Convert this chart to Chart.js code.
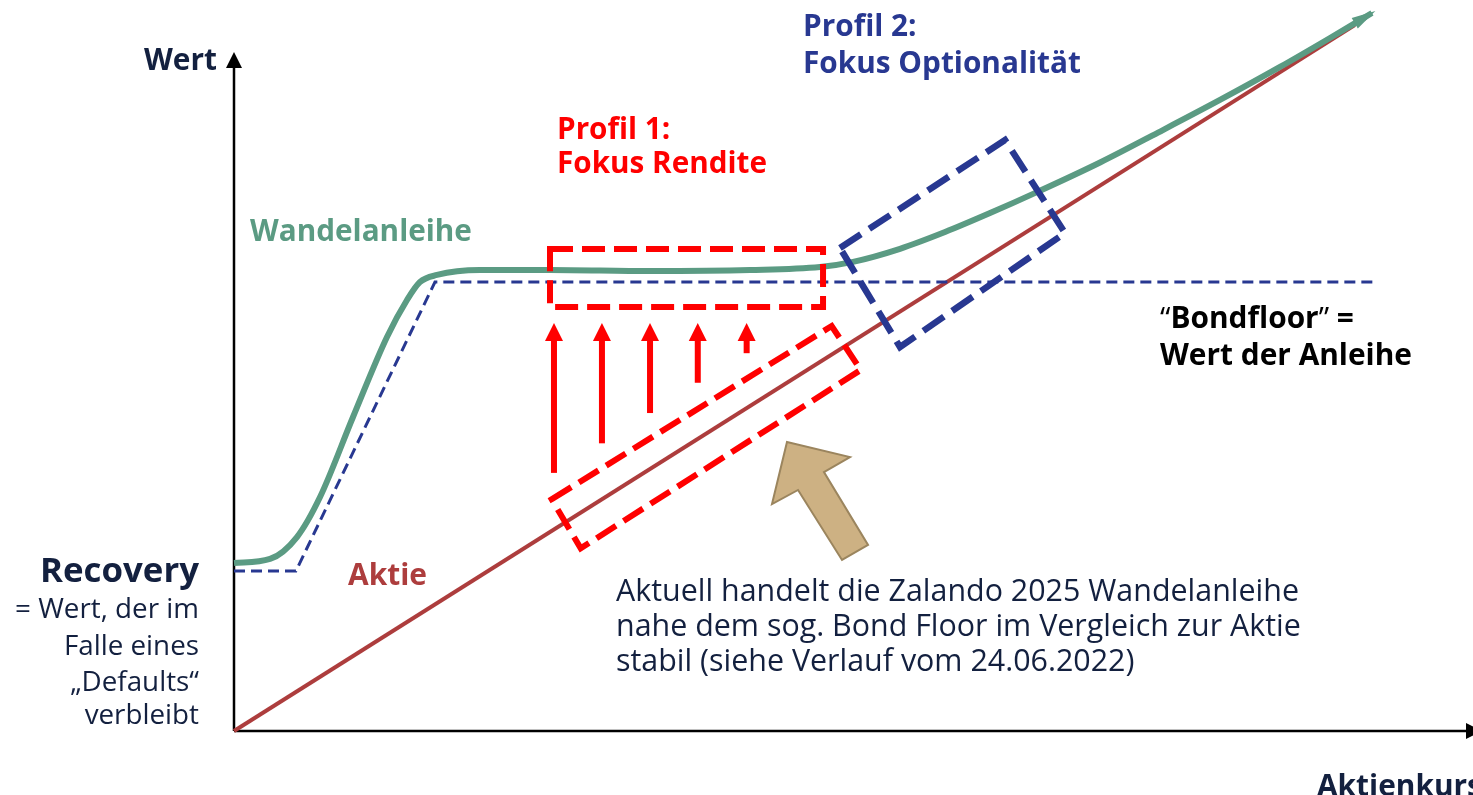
<!DOCTYPE html>
<html><head><meta charset="utf-8">
<script src="https://cdn.jsdelivr.net/npm/chart.js@4"></script>
<style>html,body{margin:0;padding:0;background:#fff;overflow:hidden}canvas{display:block}</style>
</head><body>
<canvas id="c" width="1473" height="795"></canvas>
<script>
// ---- Data (chart units: x = Aktienkurs, y = Wert) ----
const aktieX = [0, 98.6];
const aktieY = [0, 97.9];
const wandelX = [0, 3.17, 5.54, 7.57, 10.47, 13.46, 15.22, 16.36, 17.86, 21.64, 27.8, 36.6, 45.4, 51.55, 54.46, 58.59, 62.55, 66.51, 70.64, 76.19, 81.29, 86.74, 92.02, 96.42, 100.11];
const wandelY = [23.3, 23.86, 26.9, 32.45, 43.55, 54.65, 59.78, 62.27, 63.25, 63.94, 63.94, 63.8, 63.94, 64.36, 65.07, 66.88, 69.2, 71.83, 74.74, 78.85, 83.0, 87.52, 92.1, 96.12, 99.58];
const bondX = [0, 5.45, 17.68, 100.6];
const bondY = [22.19, 22.19, 62.27, 62.27];
const upArrowX = [28.15, 32.37, 36.6, 40.8, 45.1];
const upArrowFromY = [35.8, 39.9, 44.1, 48.3, 52.4];
const upArrowToY = [56.6, 56.6, 56.6, 56.6, 56.6];
const profil1BoxX = [27.8, 51.82, 51.82, 27.8];
const profil1BoxY = [66.85, 66.85, 58.8, 58.8];
const aktieBoxX = [27.95, 52.58, 55.13, 30.5];
const aktieBoxY = [32.14, 56.17, 50.07, 25.34];
const profil2BoxX = [53.31, 67.83, 73.1, 58.59];
const profil2BoxY = [66.99, 81.97, 69.07, 53.26];
const pointerX = [48.65, 54.19, 51.9, 55.78, 53.49, 49.62, 47.33];
const pointerY = [40.08, 38.0, 35.92, 25.8, 23.72, 33.43, 31.48];

const seriesNames = ['Wandelanleihe', 'Bondfloor', 'Aktie'];
const axisTitles = ['Wert', 'Aktienkurs'];
const recoveryLines = ['= Wert, der im', 'Falle eines', '\u201EDefaults\u201C', 'verbleibt'];
const noteLines = ['Aktuell handelt die Zalando 2025 Wandelanleihe', 'nahe dem sog. Bond Floor im Vergleich zur Aktie', 'stabil (siehe Verlauf vom 24.06.2022)'];
const profil1Lines = ['Profil 1:', 'Fokus Rendite'];
const profil2Lines = ['Profil 2:', 'Fokus Optionalit\u00E4t'];
const bondLines = ['Bondfloor', 'Wert der Anleihe'];

const C_GREEN = '#5b9b83', C_RED = '#ad3d3d', C_NAVY = '#13203f', C_BLUE = '#283891', C_BRIGHT = '#ff0000';
const FONT = '"Open Sans", "Noto Sans", sans-serif';

const pts = (xs, ys) => xs.map((x, i) => ({x, y: ys[i]}));

function sizeFor(ctx, text, weight, target) {
  ctx.font = weight + ' 100px ' + FONT;
  return 100 * target / ctx.measureText(text).width;
}

const deco = {
  id: 'deco',
  beforeDatasetsDraw(chart) {
    const ctx = chart.ctx, sx = chart.scales.x, sy = chart.scales.y;
    const ox = sx.getPixelForValue(0), oy = sy.getPixelForValue(0);
    ctx.save();
    ctx.strokeStyle = '#000'; ctx.fillStyle = '#000'; ctx.lineWidth = 2.5;
    ctx.beginPath(); ctx.moveTo(ox, oy); ctx.lineTo(ox, 64); ctx.stroke();
    ctx.beginPath(); ctx.moveTo(ox, 52); ctx.lineTo(ox - 8, 68); ctx.lineTo(ox + 8, 68); ctx.closePath(); ctx.fill();
    ctx.beginPath(); ctx.moveTo(ox, oy); ctx.lineTo(1470, oy); ctx.stroke();
    ctx.beginPath(); ctx.moveTo(1482, oy); ctx.lineTo(1466, oy - 8); ctx.lineTo(1466, oy + 8); ctx.closePath(); ctx.fill();
    ctx.restore();
  },
  afterDatasetsDraw(chart) {
    const ctx = chart.ctx, sx = chart.scales.x, sy = chart.scales.y;
    const P = (x, y) => [sx.getPixelForValue(x), sy.getPixelForValue(y)];
    ctx.save();
    // green arrowhead
    const n = wandelX.length;
    const [ex, ey] = P(wandelX[n - 1], wandelY[n - 1]);
    const [px, py] = P(wandelX[n - 2], wandelY[n - 2]);
    const ang = Math.atan2(ey - py, ex - px);
    ctx.fillStyle = C_GREEN;
    ctx.beginPath();
    ctx.moveTo(ex + 4 * Math.cos(ang), ey + 4 * Math.sin(ang));
    ctx.lineTo(ex - 20 * Math.cos(ang) + 6 * Math.sin(ang), ey - 20 * Math.sin(ang) - 6 * Math.cos(ang));
    ctx.lineTo(ex - 20 * Math.cos(ang) - 6 * Math.sin(ang), ey - 20 * Math.sin(ang) + 6 * Math.cos(ang));
    ctx.closePath(); ctx.fill();

    const poly = (xs, ys, color, dash, w) => {
      ctx.strokeStyle = color; ctx.lineWidth = w; ctx.setLineDash(dash); ctx.lineJoin = 'miter'; ctx.lineCap = 'butt';
      ctx.beginPath();
      xs.forEach((x, i) => { const [a, b] = P(x, ys[i]); i ? ctx.lineTo(a, b) : ctx.moveTo(a, b); });
      ctx.closePath(); ctx.stroke();
    };
    poly(profil1BoxX, profil1BoxY, C_BRIGHT, [23, 9], 6);
    poly(aktieBoxX, aktieBoxY, C_BRIGHT, [23, 9], 6);
    poly(profil2BoxX, profil2BoxY, C_BLUE, [25, 10], 6.5);
    ctx.setLineDash([]);

    // up arrows
    ctx.fillStyle = C_BRIGHT; ctx.strokeStyle = C_BRIGHT;
    upArrowX.forEach((x, i) => {
      const [a, b0] = P(x, upArrowFromY[i]);
      const [, b1] = P(x, upArrowToY[i]);
      ctx.fillRect(a - 3, b1 + 16, 6, b0 - b1 - 16);
      ctx.beginPath(); ctx.moveTo(a, b1); ctx.lineTo(a - 9, b1 + 18); ctx.lineTo(a + 9, b1 + 18); ctx.closePath(); ctx.fill();
    });

    // tan pointer arrow
    ctx.fillStyle = '#cdb183'; ctx.strokeStyle = '#9b855e'; ctx.lineWidth = 2;
    ctx.beginPath();
    pointerX.forEach((x, i) => { const [a, b] = P(x, pointerY[i]); i ? ctx.lineTo(a, b) : ctx.moveTo(a, b); });
    ctx.closePath(); ctx.fill(); ctx.stroke();

    // texts
    ctx.textBaseline = 'alphabetic';
    const txt = (t, x, y, size, weight, color, align) => {
      ctx.font = weight + ' ' + size.toFixed(2) + 'px ' + FONT;
      ctx.fillStyle = color; ctx.textAlign = align || 'left';
      ctx.fillText(t, x, y);
    };
    const sWert = sizeFor(ctx, axisTitles[0], 'bold', 73);
    txt(axisTitles[0], 217, 70, sWert, 'bold', C_NAVY, 'right');
    txt(axisTitles[1], 1317, 796, sWert, 'bold', C_NAVY);
    const sW = sizeFor(ctx, seriesNames[0], 'bold', 222);
    txt(seriesNames[0], 250, 241, sW, 'bold', C_GREEN);
    const sA = sizeFor(ctx, seriesNames[2], 'bold', 79);
    txt(seriesNames[2], 348, 585, sA, 'bold', C_RED);
    const sP1 = sizeFor(ctx, profil1Lines[1], 'bold', 210);
    txt(profil1Lines[0], 557, 139, sP1, 'bold', C_BRIGHT);
    txt(profil1Lines[1], 557, 173, sP1, 'bold', C_BRIGHT);
    const sP2 = sizeFor(ctx, profil2Lines[1], 'bold', 278);
    txt(profil2Lines[0], 803, 36, sP2, 'bold', C_BLUE);
    txt(profil2Lines[1], 803, 73, sP2, 'bold', C_BLUE);
    const sB = sizeFor(ctx, bondLines[1], 'bold', 252);
    let bx = 1160;
    const seg = (t, w) => { ctx.font = w + ' ' + sB.toFixed(2) + 'px ' + FONT; ctx.fillStyle = '#000'; ctx.textAlign = 'left'; ctx.fillText(t, bx, 328); bx += ctx.measureText(t).width; };
    seg('\u201C', 'normal'); seg(bondLines[0], 'bold'); seg('\u201D', 'normal'); seg(' =', 'bold');
    txt(bondLines[1], 1160, 365, sB, 'bold', '#000');
    const sR = sizeFor(ctx, 'Recovery', 'bold', 159);
    txt('Recovery', 199, 582, sR, 'bold', C_NAVY, 'right');
    const sRl = sizeFor(ctx, recoveryLines[0], 'normal', 184);
    const rb = [618, 655, 691, 724];
    recoveryLines.forEach((t, i) => txt(t, 199, rb[i], sRl, 'normal', C_NAVY, 'right'));
    const sN = sizeFor(ctx, noteLines[0], 'normal', 683);
    noteLines.forEach((t, i) => txt(t, 616, 601 + 35 * i, sN, 'normal', C_NAVY));
    ctx.restore();
  }
};

new Chart(document.getElementById('c'), {
  type: 'scatter',
  data: {
    datasets: [
      { label: seriesNames[0], data: pts(wandelX, wandelY), showLine: true, borderColor: C_GREEN, borderWidth: 6, pointRadius: 0, cubicInterpolationMode: 'monotone', order: 1, clip: false },
      { label: seriesNames[1], data: pts(bondX, bondY), showLine: true, borderColor: C_BLUE, borderWidth: 3, borderDash: [11, 6], pointRadius: 0, tension: 0, order: 2, clip: false },
      { label: seriesNames[2], data: pts(aktieX, aktieY), showLine: true, borderColor: C_RED, borderWidth: 4, pointRadius: 0, tension: 0, order: 3, clip: false }
    ]
  },
  options: {
    responsive: false, animation: false, devicePixelRatio: 1,
    layout: { padding: { left: 234, right: 0, top: 10, bottom: 64 } },
    scales: {
      x: { type: 'linear', min: 0, max: 109, display: false },
      y: { type: 'linear', min: 0, max: 100, display: false }
    },
    plugins: { legend: { display: false }, tooltip: { enabled: false } },
    events: []
  },
  plugins: [deco]
});
</script>
</body></html>
